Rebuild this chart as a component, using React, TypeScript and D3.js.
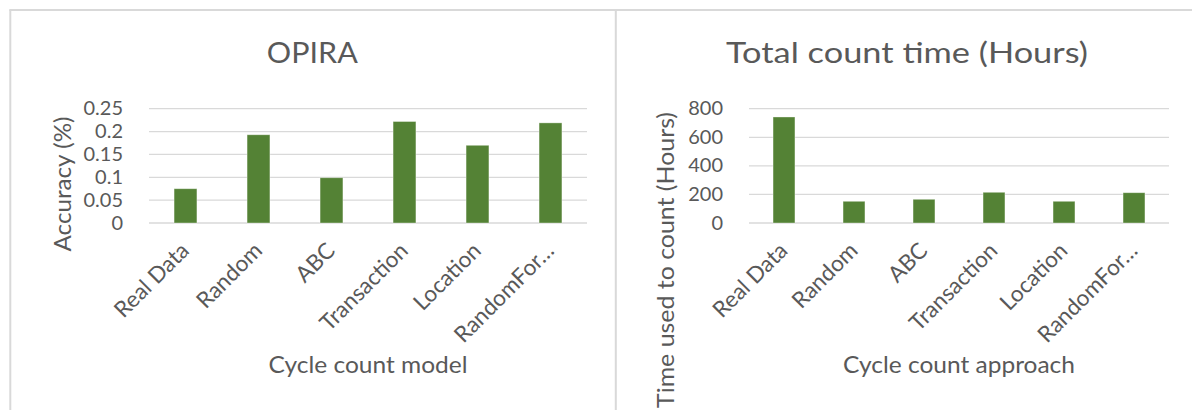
import React from "react";
import * as d3 from "d3";

const categories = ["Real Data", "Random", "ABC", "Transaction", "Location", "RandomFor…"];
const accuracy = [0.075, 0.193, 0.099, 0.222, 0.17, 0.219];
const hours = [742, 152, 166, 215, 152, 212];
const accTicks = [0, 0.05, 0.1, 0.15, 0.2, 0.25];
const accTickLabels = ["0", "0.05", "0.1", "0.15", "0.2", "0.25"];
const hourTicks = [0, 200, 400, 600, 800];

const FONT = "Lato, 'Open Sans', sans-serif";
const TEXT = "#595959";
const GRID = "#d9d9d9";
const BAR = "#548235";

type PanelProps = {
  title: string;
  titleX: number;
  titleLen: number;
  yTitle: string;
  yTitleX: number;
  yTitleY: number;
  yTitleLen: number;
  xTitle: string;
  xTitleLen: number;
  x0: number;
  x1: number;
  values: number[];
  ticks: number[];
  tickLabels: string[];
  yMax: number;
};

function Panel(p: PanelProps) {
  const x = d3
    .scaleBand<string>()
    .domain(categories)
    .range([p.x0, p.x1])
    .paddingInner(0.687)
    .paddingOuter(0.3435);
  const y = d3.scaleLinear().domain([0, p.yMax]).range([223, 108.7]);
  return (
    <g>
      <text
        x={p.titleX}
        y={62.5}
        fontSize={29}
        fill={TEXT}
        textAnchor="middle"
        textLength={p.titleLen}
        lengthAdjust="spacingAndGlyphs"
      >
        {p.title}
      </text>
      {p.ticks.map((t, i) => (
        <g key={"g" + i}>
          <line x1={p.x0} x2={p.x1} y1={y(t)} y2={y(t)} stroke={GRID} strokeWidth={1.3} />
          <g transform={`translate(${p.x0 - 26},${y(t) + 6.5}) scale(1.08,1)`}>
            <text x={0} y={0} fontSize={18.5} fill={TEXT} textAnchor="end">
              {p.tickLabels[i]}
            </text>
          </g>
        </g>
      ))}
      {categories.map((c, i) => (
        <rect
          key={"b" + i}
          x={x(c)!}
          y={y(p.values[i])}
          width={x.bandwidth()}
          height={y(0) - y(p.values[i])}
          fill={BAR}
          stroke="#ffffff"
          strokeOpacity={0.45}
          strokeWidth={0.8}
        />
      ))}
      {categories.map((c, i) => {
        const cx = x(c)! + x.bandwidth() / 2;
        return (
          <text
            key={"c" + i}
            transform={`translate(${cx + 5},${252}) rotate(-45)`}
            fontSize={22.5}
            fill={TEXT}
            textAnchor="end"
          >
            {c}
          </text>
        );
      })}
      <text
        transform={`translate(${p.yTitleX},${p.yTitleY}) rotate(-90)`}
        fontSize={23}
        fill={TEXT}
        textAnchor="middle"
        textLength={p.yTitleLen}
        lengthAdjust="spacingAndGlyphs"
      >
        {p.yTitle}
      </text>
      <text
        x={(p.x0 + p.x1) / 2}
        y={373}
        fontSize={22.5}
        fill={TEXT}
        textAnchor="middle"
        textLength={p.xTitleLen}
        lengthAdjust="spacingAndGlyphs"
      >
        {p.xTitle}
      </text>
    </g>
  );
}

export default function App() {
  return (
    <svg
      width={1192}
      height={410}
      style={{ position: "absolute", left: 0, top: 0, fontFamily: FONT, background: "#fff" }}
    >
      <rect x={0} y={0} width={1192} height={410} fill="#fff" />
      <line x1={10.3} x2={10.3} y1={10} y2={410} stroke={GRID} strokeWidth={2} />
      <line x1={9.3} x2={1192} y1={10} y2={10} stroke={GRID} strokeWidth={2} />
      <line x1={615.8} x2={615.8} y1={10} y2={410} stroke={GRID} strokeWidth={2} />
      <Panel
        title="OPIRA"
        titleX={312.3}
        titleLen={91}
        yTitle="Accuracy (%)"
        yTitleX={71}
        yTitleY={184}
        yTitleLen={135}
        xTitle="Cycle count model"
        xTitleLen={199}
        x0={149}
        x1={587}
        values={accuracy}
        ticks={accTicks}
        tickLabels={accTickLabels}
        yMax={0.25}
      />
      <Panel
        title="Total count time (Hours)"
        titleX={907}
        titleLen={362}
        yTitle="Time used to count (Hours)"
        yTitleX={674}
        yTitleY={260}
        yTitleLen={296}
        xTitle="Cycle count approach"
        xTitleLen={232}
        x0={749}
        x1={1169}
        values={hours}
        ticks={hourTicks}
        tickLabels={hourTicks.map((t) => String(t))}
        yMax={800}
      />
    </svg>
  );
}
